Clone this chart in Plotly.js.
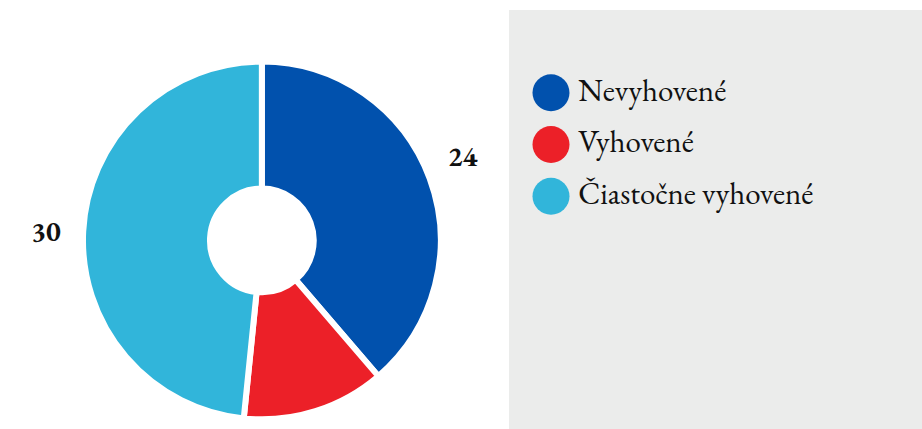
<!DOCTYPE html>
<html>
<head>
<meta charset="utf-8">
<script src="https://cdn.plot.ly/plotly-3.0.1.min.js"></script>
<style>html,body{margin:0;padding:0;background:#fff;}#chart{width:922px;height:429px;}</style>
</head>
<body>
<div id="chart"></div>
<script>
const categories = ['Nevyhovené', 'Vyhovené', 'Čiastočne vyhovené'];
const values = [24, 8, 30];
// label templates (the red slice carries no value label in the reference)
const valueLabels = ['%{value}<br>\u00a0', '', '%{value}\u00a0\u00a0'];
const colors = ['#0151AD', '#EC2028', '#31B5DA'];
const legendIndex = [0, 1, 2];

const FONT = 'EB Garamond';

const pie = {
  type: 'pie',
  labels: categories,
  values: values,
  sort: false,
  direction: 'clockwise',
  rotation: 0,
  hole: 0.29,
  marker: {colors: colors, line: {color: '#ffffff', width: 6}},
  texttemplate: valueLabels,
  textposition: 'outside',
  outsidetextfont: {family: FONT, size: 28, color: '#111111', weight: 'bold'},
  domain: {x: [0.090, 0.478], y: [0.022, 0.878]},
  showlegend: false,
  hoverinfo: 'none'
};

const legendTrace = {
  type: 'scatter',
  mode: 'markers+text',
  x: legendIndex.map(() => 0),
  y: legendIndex,
  text: categories.map(c => '\u2009' + c),
  textposition: 'middle right',
  textfont: {family: FONT, size: 31, color: '#111111'},
  marker: {symbol: 'circle', size: 37, color: colors, line: {width: 0}},
  cliponaxis: false,
  showlegend: false,
  hoverinfo: 'none',
  xaxis: 'x',
  yaxis: 'y'
};

const layout = {
  width: 922,
  height: 429,
  margin: {l: 0, r: 0, t: 10, b: 0, pad: 0},
  paper_bgcolor: '#ffffff',
  plot_bgcolor: '#EBECEB',
  showlegend: false,
  xaxis: {domain: [509/922, 1], range: [-42, 371], showgrid: false, zeroline: false, showticklabels: false, showline: false, ticks: '', fixedrange: true},
  yaxis: {domain: [0, 1], range: [6.5, -1.6], showgrid: false, zeroline: false, showticklabels: false, showline: false, ticks: '', fixedrange: true},
  font: {family: FONT}
};

Plotly.newPlot('chart', [pie, legendTrace], layout, {displayModeBar: false, staticPlot: true});
</script>
</body>
</html>
